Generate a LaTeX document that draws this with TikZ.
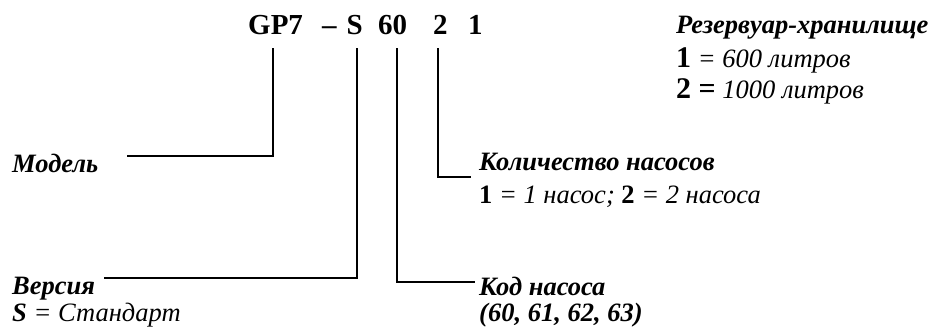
\documentclass[tikz,border=0pt]{standalone}
\usepackage{fontspec}
\setmainfont{Liberation Serif}
\tikzset{
  link/.style={line width=1.4pt, line cap=rect},
  title/.style={anchor=base west, inner sep=0pt, font=\fontsize{29}{29}\selectfont\bfseries},
  head/.style={anchor=base west, inner sep=0pt, font=\fontsize{26.5}{26.5}\selectfont\bfseries\itshape},
  info/.style={anchor=base west, inner sep=0pt, font=\fontsize{26.5}{26.5}\selectfont\itshape}
}
\newcommand{\bnum}[1]{\textup{\bfseries #1}}

\begin{document}
\begin{tikzpicture}[x=1pt, y=-1pt]
		%%%%% START %%%%%
		\useasboundingbox (0,0) rectangle (929,329);
		
		% code
		\node[title] (gp) at (248, 35) {GP7};
		\node[title] (ver) at (322, 35) {--\hspace{10pt}S};
		\node[title] (pmp) at (378, 35) {60};
		\node[title] (cnt) at (433, 35) {2};
		\node[title] (tnk) at (468, 35) {1};
		
		% labels
		\node[head] (model) at (12, 172) {Модель};
		\node[head] (verH) at (12, 294) {Версия};
		\node[info] (verI) at (12, 321) {\textbf{S} = Стандарт};
		\node[head] (pmpH) at (479, 295) {Код насоса};
		\node[head] (pmpI) at (479, 321) {(60, 61, 62, 63)};
		\node[head] (cntH) at (479, 170) {Количество насосов};
		\node[info] (cntI) at (479, 203) {\bnum{1} = 1 насос; \bnum{2} = 2 насоса};
		\node[head] (tnkH) at (676, 34) {Резервуар-хранилище};
		\node[info] (tnkA) at (676, 67) {\bnum{\fontsize{30}{30}\selectfont 1} = 600 литров};
		\node[info] (tnkB) at (676, 99) {\bnum{\fontsize{30}{30}\selectfont 2 =} 1000 литров};
		
		% connectors
		\coordinate (gpTop) at (273, 49);
		\coordinate (verTop) at (357, 49);
		\coordinate (pmpTop) at (397, 49);
		\coordinate (cntTop) at (438, 49);
		\coordinate (modelEnd) at (128, 156);
		\coordinate (verEnd) at (105, 278);
		\coordinate (pmpEnd) at (474, 282);
		\coordinate (cntEnd) at (470, 177);
		
		\draw[link] (gpTop) |- (modelEnd);
		\draw[link] (verTop) |- (verEnd);
		\draw[link] (pmpTop) |- (pmpEnd);
		\draw[link] (cntTop) |- (cntEnd);
		
		%%%%% END %%%%%
\end{tikzpicture}
\end{document}
